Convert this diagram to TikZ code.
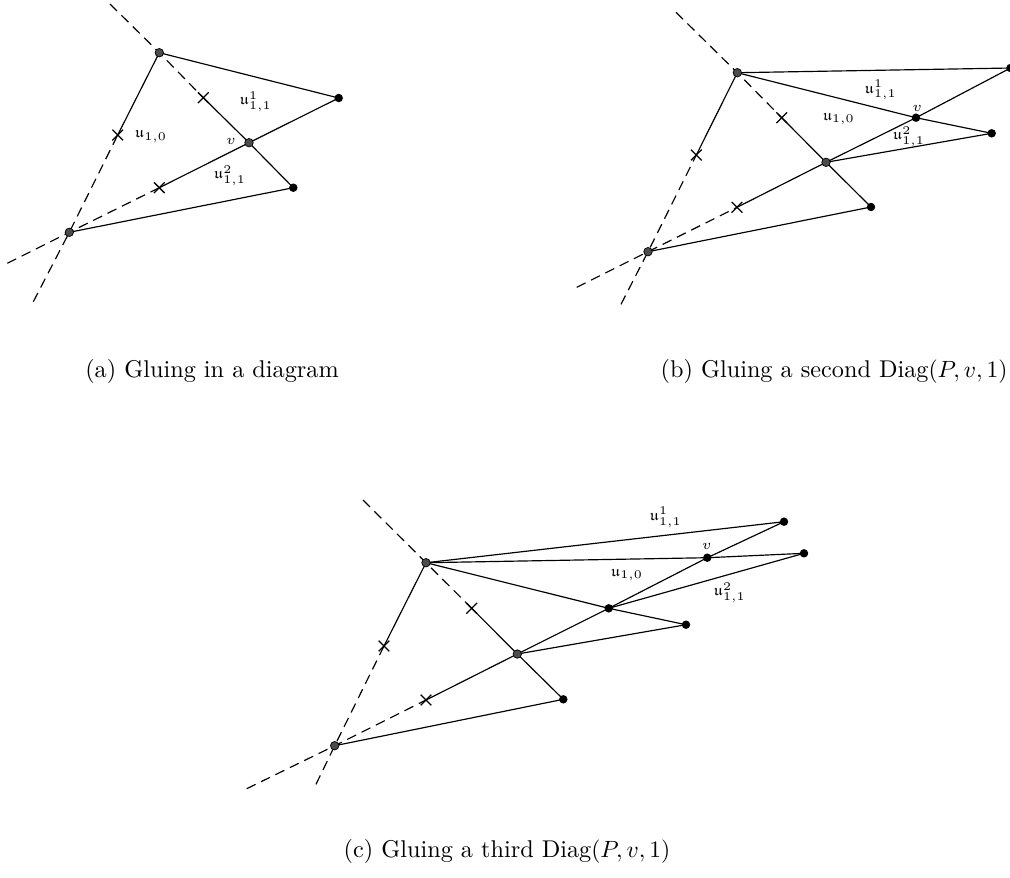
\documentclass[tikz,border=0pt]{standalone}
\usepackage{amssymb}
\usetikzlibrary{shapes.misc}
\tikzset{
  edge/.style={line width=0.5pt},
  ext/.style={edge, dash pattern=on 4.2pt off 2.6pt},
  gdot/.style={circle, draw=black, fill=black!70, line width=0.3pt, inner sep=0pt, minimum size=3.6pt},
  bdot/.style={circle, fill=black, inner sep=0pt, minimum size=3.6pt},
  xmark/.style={cross out, draw=black, line width=0.55pt, inner sep=0pt, minimum size=4pt},
  lab/.style={font=\fontsize{6.5}{8}\selectfont, inner sep=0pt},
  captext/.style={font=\fontsize{10.3}{12}\selectfont, inner sep=0pt}
}
\begin{document}
\begin{tikzpicture}[x=0.425pt, y=-0.425pt]
\useasboundingbox (0,0) rectangle (1010,877);

% ---------- (a) ----------
\coordinate (aA) at (159.3,52.7);
\coordinate (aR1) at (338.7,98);
\coordinate (av) at (249,142.7);
\coordinate (aR2) at (293.3,187.7);
\coordinate (aB) at (69.3,232.3);
\coordinate (axAB) at (117.7,135);
\coordinate (axAv) at (203.3,97.7);
\coordinate (axBv) at (159.3,187.7);
\coordinate (aT) at (110,4);
\coordinate (aE1) at (33.3,301.7);
\coordinate (aE2) at (7.3,263.3);

\draw[ext] (aT) -- (aA) -- (axAv);
\draw[ext] (aE1) -- (aB) -- (axAB);
\draw[ext] (aE2) -- (aB) -- (axBv);
\draw[edge] (axAv) -- (av) -- (aR2);
\draw[edge] (axAB) -- (aA);
\draw[edge] (axBv) -- (av) -- (aR1);
\draw[edge] (aA) -- (aR1);
\draw[edge] (aB) -- (aR2);

\node[xmark] (maAB) at (axAB) {};
\node[xmark] (maAv) at (axAv) {};
\node[xmark] (maBv) at (axBv) {};
\node[gdot] (daA) at (aA) {};
\node[gdot] (daB) at (aB) {};
\node[gdot] (dav) at (av) {};
\node[bdot] (daR1) at (aR1) {};
\node[bdot] (daR2) at (aR2) {};

\node[lab] (la1) at (255.7,101.7) {$\mathfrak{u}^1_{1,1}$};
\node[lab] (la0) at (151,136.7) {$\mathfrak{u}_{1,0}$};
\node[lab] (lav) at (231,141.7) {$v$};
\node[lab] (la2) at (230,175.7) {$\mathfrak{u}^2_{1,1}$};

% ---------- (b) ----------
\coordinate (bA) at (737.3,72.7);
\coordinate (bB) at (648,251.7);
\coordinate (bM) at (826,162.3);
\coordinate (bR2) at (871,207);
\coordinate (bv) at (916,117.7);
\coordinate (bR3) at (991.7,133.3);
\coordinate (bR4) at (1010.5,68);
\coordinate (bxAB) at (696.3,155);
\coordinate (bxAM) at (781.7,117.7);
\coordinate (bxBM) at (737,207.3);
\coordinate (bT) at (676,12.3);
\coordinate (bE1) at (621,304.3);
\coordinate (bE2) at (576.7,287.3);

\draw[ext] (bT) -- (bA) -- (bxAM);
\draw[ext] (bE1) -- (bB) -- (bxAB);
\draw[ext] (bE2) -- (bB) -- (bxBM);
\draw[edge] (bxAM) -- (bM) -- (bR2);
\draw[edge] (bxAB) -- (bA);
\draw[edge] (bxBM) -- (bM) -- (bv) -- (bR4);
\draw[edge] (bA) -- (bR4);
\draw[edge] (bA) -- (bv) -- (bR3);
\draw[edge] (bM) -- (bR3);
\draw[edge] (bB) -- (bR2);

\node[xmark] (mbAB) at (bxAB) {};
\node[xmark] (mbAM) at (bxAM) {};
\node[xmark] (mbBM) at (bxBM) {};
\node[gdot] (dbA) at (bA) {};
\node[gdot] (dbB) at (bB) {};
\node[gdot] (dbM) at (bM) {};
\node[bdot] (dbv) at (bv) {};
\node[bdot] (dbR2) at (bR2) {};
\node[bdot] (dbR3) at (bR3) {};
\node[bdot] (dbR4) at (bR4) {};

\node[lab] (lb1) at (880.7,90) {$\mathfrak{u}^1_{1,1}$};
\node[lab] (lbv) at (917.3,108.3) {$v$};
\node[lab] (lb0) at (838.8,119) {$\mathfrak{u}_{1,0}$};
\node[lab] (lb2) at (909,136.7) {$\mathfrak{u}^2_{1,1}$};

% ---------- (c) ----------
\coordinate (cA) at (426,562.7);
\coordinate (cB) at (334.7,745.7);
\coordinate (cM1) at (517.3,654);
\coordinate (cM2) at (608.7,608.3);
\coordinate (cv) at (707.3,557.7);
\coordinate (cR1) at (784,521.7);
\coordinate (cR2) at (804,553.3);
\coordinate (cR3) at (686,624.7);
\coordinate (cR4) at (563.3,699.3);
\coordinate (cxAB) at (384,646);
\coordinate (cxAM) at (471.7,608.3);
\coordinate (cxBM) at (426,700);
\coordinate (cT) at (363,500);
\coordinate (cE1) at (316,784.3);
\coordinate (cE2) at (246.7,788.7);

\draw[ext] (cT) -- (cA) -- (cxAM);
\draw[ext] (cE1) -- (cB) -- (cxAB);
\draw[ext] (cE2) -- (cB) -- (cxBM);
\draw[edge] (cxAM) -- (cM1) -- (cR4);
\draw[edge] (cxAB) -- (cA);
\draw[edge] (cxBM) -- (cM1) -- (cM2) -- (cv) -- (cR1);
\draw[edge] (cA) -- (cR1);
\draw[edge] (cA) -- (cv) -- (cR2);
\draw[edge] (cA) -- (cM2) -- (cR3);
\draw[edge] (cM1) -- (cR3);
\draw[edge] (cM2) -- (cR2);
\draw[edge] (cB) -- (cR4);

\node[xmark] (mcAB) at (cxAB) {};
\node[xmark] (mcAM) at (cxAM) {};
\node[xmark] (mcBM) at (cxBM) {};
\node[gdot] (dcA) at (cA) {};
\node[gdot] (dcB) at (cB) {};
\node[gdot] (dcM1) at (cM1) {};
\node[bdot] (dcM2) at (cM2) {};
\node[bdot] (dcv) at (cv) {};
\node[bdot] (dcR1) at (cR1) {};
\node[bdot] (dcR2) at (cR2) {};
\node[bdot] (dcR3) at (cR3) {};
\node[bdot] (dcR4) at (cR4) {};

\node[lab] (lc1) at (665.7,517.3) {$\mathfrak{u}^1_{1,1}$};
\node[lab] (lcv) at (706.7,546.7) {$v$};
\node[lab] (lc0) at (627,575) {$\mathfrak{u}_{1,0}$};
\node[lab] (lc2) at (729.7,592.7) {$\mathfrak{u}^2_{1,1}$};

% ---------- captions ----------
\node[captext] (capa) at (212,371) {(a) Gluing in a diagram};
\node[captext, anchor=east] (capb) at (1008,371) {(b) Gluing a second Diag$(P,v,1)$};
\node[captext] (capc) at (507,851) {(c) Gluing a third Diag$(P,v,1)$};
\end{tikzpicture}
\end{document}
